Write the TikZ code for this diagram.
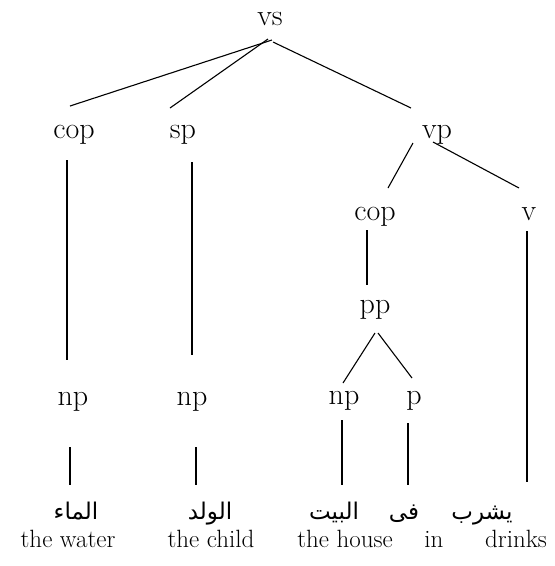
\documentclass[tikz,border=0pt]{standalone}
\usepackage{fontspec}
\newfontfamily\arabicfont[Script=Arabic]{DejaVu Sans}
\TeXXeTstate=1
\usetikzlibrary{calc}
\begin{document}
\begin{tikzpicture}[x=1pt,y=-1pt,
  lab/.style={anchor=base,inner sep=0pt,font=\fontsize{30}{36}\selectfont},
  eng/.style={anchor=base,inner sep=0pt,font=\fontsize{25}{30}\selectfont},
  ar/.style={anchor=base,inner sep=0pt,font=\fontsize{23}{27}\selectfont\arabicfont},
  edge/.style={draw=black,line width=1.1pt}]
\useasboundingbox[fill=white] (0,0) rectangle (555,566);
% category labels
\node[lab] (vs) at (270,25) {vs};
\node[lab] (cop1) at (74,138) {cop};
\node[lab] (sp) at (183,138) {sp};
\node[lab] (vp) at (437,138) {vp};
\node[lab] (cop2) at (375,220) {cop};
\node[lab] (v) at (529,220) {v};
\node[lab] (pp) at (375,313) {pp};
\node[lab] (np1) at (73,405) {np};
\node[lab] (np2) at (192,405) {np};
\node[lab] (np3) at (344,404) {np};
\node[lab] (p) at (414,404) {p};
% Arabic words
\node[ar] (a1) at (76,519) {\beginR الماء\endR};
\node[ar] (a2) at (210,519) {\beginR الولد\endR};
\node[ar] (a3) at (334,519) {\beginR البيت\endR};
\node[ar] (a4) at (404,519) {\beginR فى\endR};
\node[ar] (a5) at (482,519) {\beginR يشرب\endR};
% English glosses
\node[eng] (e1) at (68,547) {the water};
\node[eng] (e2) at (211,547) {the child};
\node[eng] (e3) at (345,547) {the house};
\node[eng] (e4) at (434,547) {in};
\node[eng] (e5) at (516,547) {drinks};
% connectors
\draw[edge] ($(vs.base)+(2,15)$) -- ($(cop1.base)+(-4,-32)$);
\draw[edge] ($(vs.base)+(-2,14)$) -- ($(sp.base)+(-13,-30)$);
\draw[edge] ($(vs.base)+(3,17)$) -- ($(vp.base)+(-26,-30)$);
\draw[edge] ($(vp.base)+(-24,5)$) -- ($(cop2.base)+(13,-32)$);
\draw[edge] ($(vp.base)+(-4,4)$) -- ($(v.base)+(-10,-32)$);
\draw[edge] ($(cop1.base)+(-7,22)$) -- ($(np1.base)+(-6,-45)$);
\draw[edge] ($(sp.base)+(9,24)$) -- ($(np2.base)+(0,-50)$);
\draw[edge] ($(cop2.base)+(-8,10)$) -- ($(pp.base)+(-8,-28)$);
\draw[edge] ($(v.base)+(-2,11)$) -- ($(a5.base)+(45,-37)$);
\draw[edge] ($(pp.base)+(0,20)$) -- ($(np3.base)+(-1,-21)$);
\draw[edge] ($(pp.base)+(3,20)$) -- ($(p.base)+(-2,-26)$);
\draw[edge] ($(np1.base)+(-3,42)$) -- ($(a1.base)+(-6,-34)$);
\draw[edge] ($(np2.base)+(4,42)$) -- ($(a2.base)+(-14,-34)$);
\draw[edge] ($(np3.base)+(-2,16)$) -- ($(a3.base)+(8,-34)$);
\draw[edge] ($(p.base)+(-6,19)$) -- ($(a4.base)+(4,-34)$);
\end{tikzpicture}
\end{document}
